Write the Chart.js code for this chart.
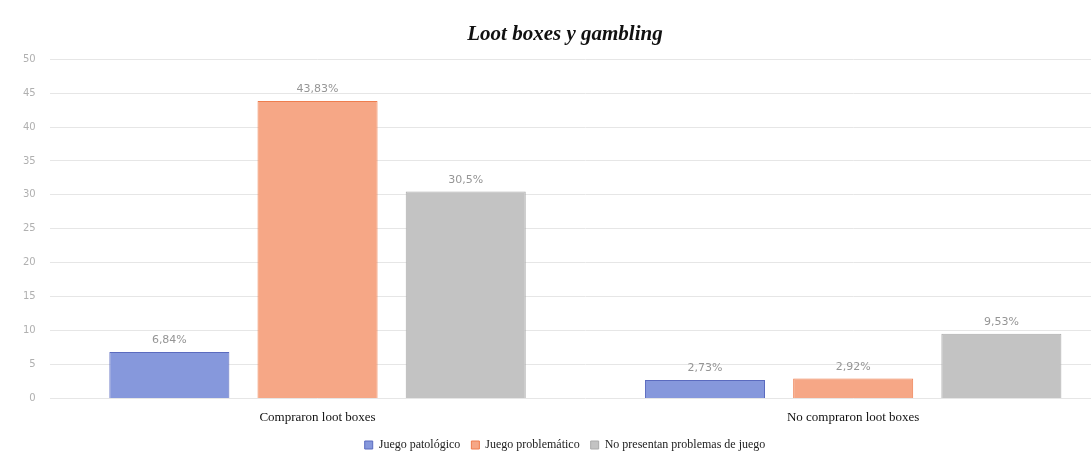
<!DOCTYPE html>
<html>
<head>
<meta charset="utf-8">
<script src="https://cdn.jsdelivr.net/npm/chart.js@4"></script>
<style>
  html, body { margin: 0; padding: 0; background: #fff; overflow: hidden; width: 1091px; height: 454px; }
  #wrap { width: 1121px; height: 461px; }
</style>
</head>
<body>
<div id="wrap"><canvas id="lootChart"></canvas></div>
<script>
// categories and values
const categories = ['Compraron loot boxes', 'No compraron loot boxes'];
const patologico = [6.84, 2.73];
const problematico = [43.83, 2.92];
const sinProblemas = [30.5, 9.53];
const pointLabels = [['6,84%', '2,73%'], ['43,83%', '2,92%'], ['30,5%', '9,53%']];
const yTicks = [0, 5, 10, 15, 20, 25, 30, 35, 40, 45, 50];

// value labels above each bar
const barLabels = {
    id: 'barLabels',
    afterDatasetsDraw(chart) {
        const ctx = chart.ctx;
        ctx.save();
        ctx.font = '11px "DejaVu Sans", sans-serif';
        ctx.fillStyle = '#959595';
        ctx.textAlign = 'center';
        ctx.textBaseline = 'bottom';
        chart.data.datasets.forEach((ds, i) => {
            chart.getDatasetMeta(i).data.forEach((bar, j) => {
                ctx.fillText(pointLabels[i][j], bar.x, bar.y - 6);
            });
        });
        ctx.restore();
    }
};

const ctx = document.getElementById('lootChart').getContext('2d');
const lootChart = new Chart(ctx, {
    type: 'bar',
    data: {
        labels: categories,
        datasets: [
            { label: 'Juego patológico', data: patologico, backgroundColor: '#8698dc', borderColor: '#5b6bbf', borderWidth: 1 },
            { label: 'Juego problemático', data: problematico, backgroundColor: '#f6a786', borderColor: '#ee7d4e', borderWidth: 1 },
            { label: 'No presentan problemas de juego', data: sinProblemas, backgroundColor: '#c3c3c3', borderColor: '#ababab', borderWidth: 1 }
        ]
    },
    options: {
        responsive: true,
        maintainAspectRatio: false,
        animation: false,
        datasets: { bar: { categoryPercentage: 0.83, barPercentage: 0.81 } },
        layout: { padding: { left: 9, right: 0, top: 0, bottom: 0 } },
        plugins: {
            title: {
                display: true,
                text: 'Loot boxes y gambling',
                color: '#111',
                font: { family: '"Liberation Serif", serif', size: 21, style: 'italic', weight: 'bold' },
                padding: { top: 22, bottom: 12 }
            },
            legend: {
                position: 'bottom',
                labels: {
                    boxWidth: 8,
                    boxHeight: 8,
                    color: '#222',
                    padding: 11,
                    font: { family: '"Liberation Serif", serif', size: 12 }
                }
            },
            tooltip: { enabled: false }
        },
        scales: {
            x: {
                grid: { display: false },
                border: { display: false },
                ticks: { color: '#111', padding: 3, font: { family: '"Liberation Serif", serif', size: 13 } }
            },
            y: {
                min: 0,
                max: 50,
                afterBuildTicks: axis => { axis.ticks = yTicks.map(v => ({ value: v })); },
                grid: { color: '#e6e6e6', drawTicks: false },
                border: { display: false },
                ticks: { color: '#b0b0b0', padding: 14, font: { family: '"DejaVu Sans", sans-serif', size: 10 } }
            }
        }
    },
    plugins: [barLabels]
});
</script>
</body>
</html>
